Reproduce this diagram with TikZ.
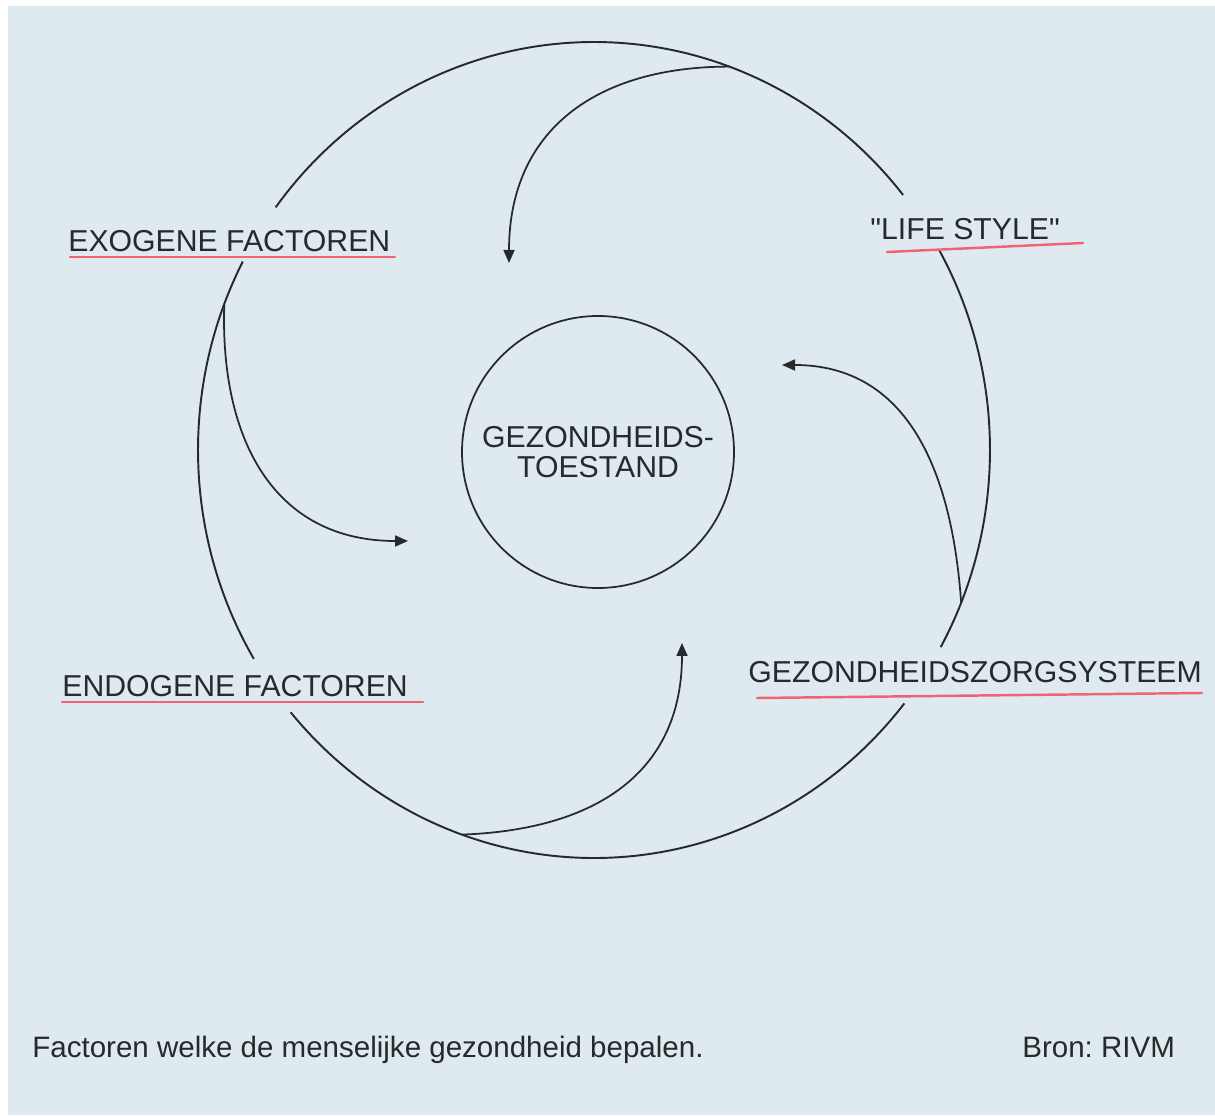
\documentclass[tikz,border=0pt]{standalone}
\usepackage{fontspec}
\setmainfont{Liberation Sans}
\usetikzlibrary{arrows.meta, shapes.geometric}
\definecolor{paper}{RGB}{223,233,240}
\definecolor{ink}{RGB}{38,42,42}
\definecolor{marker}{RGB}{240,100,114}

\begin{document}
\begin{tikzpicture}[
  x=0.2mm, y=0.2mm,
  ring/.style={draw=ink, line width=1.1pt},
  flow/.style={draw=ink, line width=1pt, -{Triangle[length=2.6mm, width=2.2mm]}},
  factor/.style={anchor=base west, inner sep=0pt, text=ink,
                 font=\fontsize{17.2}{17.2}\selectfont},
  redline/.style={draw=marker, line width=1.4pt, line cap=round},
  core/.style={circle, draw=ink, line width=1pt, minimum size=54.4mm,
               inner sep=0pt, align=center, text=ink,
               font=\fontsize{17.2}{17}\selectfont},
  caption/.style={anchor=base west, inner sep=0pt, text=ink,
                  font=\fontsize{16.8}{16.8}\selectfont}
]
\useasboundingbox (0,0) rectangle (1215,1115);
\fill[white] (0,0) rectangle (1215,1115);
\fill[paper] (8,0) rectangle (1215,1109);

% outer ring
\coordinate (O) at (594,665);
\draw[ring] (O) ++(38.7:396 and 408) arc[start angle=38.7, end angle=143.5, x radius=396, y radius=408];
\draw[ring] (O) ++(-28.9:396 and 408) arc[start angle=-28.9, end angle=29.3, x radius=396, y radius=408];
\draw[ring] (O) ++(220:396 and 408) arc[start angle=220, end angle=321.6, x radius=396, y radius=408];
\draw[ring] (O) ++(152.5:396 and 408) arc[start angle=152.5, end angle=210.8, x radius=396, y radius=408];

% centre
\node[core] (toestand) at (598,663) {GEZONDHEIDS-\\TOESTAND};

% labels
\node[factor] (exo)  at (68,863)  {EXOGENE FACTOREN};
\node[factor] (endo) at (62,418)  {ENDOGENE FACTOREN};
\node[factor] (life) at (870,875) {\textquotedbl LIFE STYLE\textquotedbl};
\node[factor] (zorg) at (748,432) {GEZONDHEIDSZORGSYSTEEM};

\draw[redline] (70,858) -- (395,858);
\draw[redline] (62,413) -- (423,413);
\draw[redline] (887,863) -- (1083,872);
\draw[redline] (757,417) -- (1202,422);

% arrows towards the centre
\path (O) ++(70:396 and 408) coordinate (life0);
\path (O) ++(-22:396 and 408) coordinate (zorg0);
\path (O) ++(250.5:396 and 408) coordinate (endo0);
\path (O) ++(159:396 and 408) coordinate (exo0);
\coordinate (life1) at (509,852);
\coordinate (zorg1) at (782,750);
\coordinate (endo1) at (682,472);
\coordinate (exo1)  at (408,574);

\draw[flow] (life0) to[out=180, in=90, looseness=1.15] (life1);
\draw[flow] (zorg0) to[out=94, in=0, looseness=1.1] (zorg1);
\draw[flow] (endo0) to[out=2, in=270, looseness=1.15] (endo1);
\draw[flow] (exo0) to[out=268, in=180, looseness=1.15] (exo1);

\node[caption] (titel) at (32,58) {Factoren welke de menselijke gezondheid bepalen.};
\node[caption] (bron) at (1022,58) {Bron:\ RIVM};
\end{tikzpicture}
\end{document}
